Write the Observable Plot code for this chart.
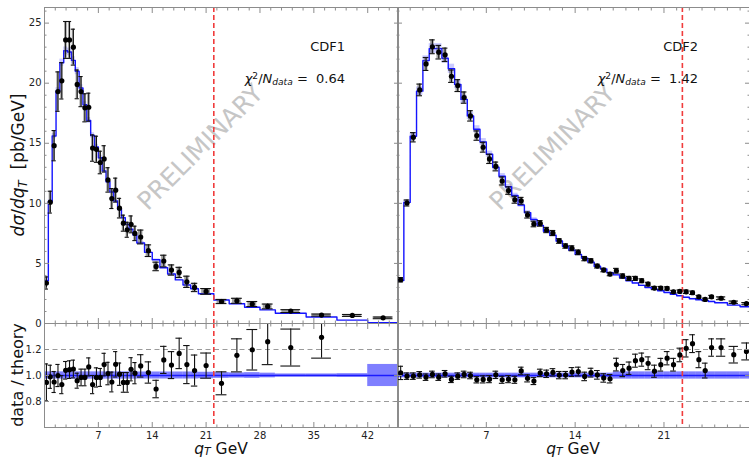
<!DOCTYPE html>
<html><head><meta charset="utf-8">
<script src="https://cdn.jsdelivr.net/npm/d3@7"></script>
<script src="https://cdn.jsdelivr.net/npm/@observablehq/plot@0.6"></script>
<style>
body{margin:0;background:#fff;}
#wrap{position:relative;width:749px;height:459px;background:#fff;font-family:"DejaVu Sans",sans-serif;color:#111;overflow:hidden}
#wrap svg{position:absolute;left:0;top:0}
.lab{position:absolute;white-space:nowrap;line-height:1}
.sb{font-size:0.7em;position:relative;top:0.25em}
.sbx{font-size:0.7em;position:relative;top:0.12em}
.sp{font-size:0.7em;position:relative;top:-0.45em}
</style></head><body><div id="wrap"></div>
<script>
// ---------------- data ----------------
const cdf1Edges = [0,0.5,1,1.5,2,2.5,3,3.5,4,4.5,5,5.5,6,6.5,7,7.5,8,8.5,9,9.5,10,10.5,11,11.5,12,13,14,15,16,17,18,19,20,22,24,26,28,30,34,38,42,46];
const cdf1Data = [3.37,10.1,14.8,19.3,20.2,23.6,23.6,23.0,19.9,19.3,17.95,18.0,14.6,14.5,13.4,13.7,11.95,10.4,11.1,9.6,8.35,7.8,8.25,7.5,7.2,6.06,4.75,5.2,4.45,4.25,3.47,3.0,2.67,1.83,1.89,1.62,1.42,1.03,0.70,0.67,0.47];
const cdf1Theory = [3.56,10.15,15.6,19.35,21.7,22.7,22.6,21.9,21.0,19.6,18.2,16.9,15.65,14.7,13.8,12.7,11.8,10.95,10.2,9.5,8.8,8.25,7.85,7.37,6.7,5.92,5.3,4.64,4.12,3.63,3.2,2.89,2.48,1.95,1.64,1.35,1.13,0.85,0.54,0.28,0.06];
const cdf1Ratio = [0.947,0.99,0.95,1.0,0.93,1.04,1.045,1.05,0.96,0.985,0.985,1.066,0.93,0.985,0.985,1.084,1.015,0.95,1.086,1.01,0.947,0.947,1.048,1.018,1.074,1.023,0.896,1.12,1.08,1.17,1.084,1.038,1.076,0.94,1.155,1.198,1.26,1.215,1.294,2.4,7.8];
const cdf1RelErr = [0.15,0.09,0.085,0.085,0.075,0.065,0.065,0.065,0.06,0.065,0.065,0.065,0.075,0.075,0.07,0.08,0.085,0.08,0.09,0.085,0.08,0.08,0.085,0.08,0.08,0.08,0.075,0.093,0.096,0.10,0.135,0.115,0.09,0.094,0.11,0.13,0.14,0.117,0.124,0.12,0.15];
const cdf1Band = [0.028,0.028,0.028,0.028,0.028,0.028,0.028,0.028,0.028,0.028,0.028,0.028,0.028,0.028,0.028,0.028,0.028,0.028,0.028,0.028,0.028,0.028,0.028,0.028,0.027,0.027,0.027,0.027,0.027,0.027,0.027,0.027,0.025,0.022,0.02,0.022,0.018,0.012,0.012,0.014,0.085];
const cdf1BandTop = 0.014;
const cdf1Cut = 22.0;
const cdf1Chi2 = "0.64";

const cdf2Edges = [0,0.5,1,1.5,2,2.5,3,3.5,4,4.5,5,5.5,6,6.5,7,7.5,8,8.5,9,9.5,10,10.5,11,11.5,12,12.5,13,13.5,14,14.5,15,15.5,16,16.5,17,17.5,18,18.5,19,19.5,20,20.5,21,21.5,22,22.5,23,23.5,24,24.5,25,26,27,28];
const cdf2Data = [3.64,10.03,15.5,19.44,21.6,23.03,22.58,22.36,20.58,19.8,18.8,17.28,15.64,14.67,13.7,13.07,11.86,11.06,10.3,10.21,9.03,8.28,8.33,7.78,7.53,6.87,6.45,6.26,5.92,5.4,5.22,4.78,4.45,4.11,4.39,3.95,3.75,3.75,3.56,3.28,2.95,2.95,2.92,2.64,2.67,2.64,2.56,2.22,2.0,2.22,2.1,1.77,1.65];
const cdf2Theory = [3.57,10.08,15.58,19.34,21.88,22.88,22.88,22.07,21.2,19.9,18.65,17.28,16.17,15.12,14.09,13.0,12.26,11.38,10.65,9.86,9.23,8.65,8.17,7.68,7.35,6.87,6.43,6.1,5.75,5.44,5.11,4.76,4.54,4.22,4.05,3.81,3.55,3.37,3.17,3.0,2.86,2.72,2.58,2.44,2.31,2.18,2.06,1.98,1.92,1.83,1.73,1.53,1.39];
const cdf2Ratio = [1.02,0.995,0.995,1.005,0.987,1.008,0.987,1.013,0.97,0.995,1.008,1.0,0.967,0.97,0.972,1.005,0.967,0.972,0.967,1.035,0.978,0.957,1.02,1.013,1.024,1.003,1.003,1.027,1.03,0.993,1.022,1.005,0.981,0.975,1.084,1.038,1.056,1.114,1.122,1.094,1.033,1.083,1.133,1.083,1.158,1.209,1.245,1.122,1.038,1.215,1.215,1.16,1.185];
const cdf2RelErr = [0.05,0.025,0.025,0.025,0.025,0.025,0.025,0.025,0.025,0.025,0.025,0.025,0.025,0.028,0.028,0.028,0.028,0.028,0.028,0.028,0.028,0.028,0.028,0.028,0.028,0.028,0.028,0.033,0.033,0.033,0.033,0.033,0.033,0.033,0.045,0.045,0.045,0.045,0.045,0.045,0.045,0.045,0.045,0.045,0.045,0.055,0.055,0.055,0.055,0.055,0.055,0.055,0.055];
const cdf2Band = [0.018,0.018,0.018,0.018,0.018,0.018,0.018,0.018,0.018,0.018,0.018,0.018,0.018,0.018,0.018,0.018,0.018,0.018,0.018,0.018,0.018,0.018,0.018,0.018,0.018,0.018,0.018,0.018,0.018,0.018,0.018,0.018,0.018,0.018,0.028,0.028,0.028,0.028,0.028,0.028,0.028,0.028,0.028,0.028,0.028,0.028,0.028,0.028,0.028,0.028,0.028,0.028,0.028];
const cdf2BandTop = 0.018;
const cdf2Cut = 22.45;
const cdf2Chi2 = "1.42";

const xTicks1 = [0,7,14,21,28,35,42];
const xLabels1 = [7,14,21,28,35,42];
const xTicks2 = [0,7,14,21];
const xLabels2 = [7,14,21];
const yTicksTop = [0,5,10,15,20,25];
const yTicksRatio = [0.8,1.0,1.2];

// ---------------- helpers ----------------
function rows(edges, data, theory, ratio, rel, band) {
  return data.map((v, i) => ({lo: edges[i], hi: edges[i + 1], c: (edges[i] + edges[i + 1]) / 2,
    w: edges[i + 1] - edges[i], v, th: theory[i], r: ratio[i], e: rel[i], b: band[i]}));
}
const R1 = rows(cdf1Edges, cdf1Data, cdf1Theory, cdf1Ratio, cdf1RelErr, cdf1Band);
const R2 = rows(cdf2Edges, cdf2Data, cdf2Theory, cdf2Ratio, cdf2RelErr, cdf2Band);

const W = 749, H = 459, FRAME = "#8c8c8c", XK = 0.2887;
const geoL = {marginLeft: 44, marginRight: 351, xDomain: [0, 46], minorX: 1.4, xMajor: xTicks1, xLabels: xLabels1};
const geoR = {marginLeft: 397, marginRight: 0, xDomain: [0, 27.74], minorX: 1, xMajor: xTicks2, xLabels: xLabels2};
const baseStyle = {background: "transparent", overflow: "visible", fontFamily: "DejaVu Sans", fontSize: "10px", color: "#222"};

function minorsOf(max, step, majors) {
  return d3.range(0, max + 1e-9, step).filter(v => !majors.some(m => Math.abs(m - v) < 1e-6));
}
function tickX(anchor, ticks, size) {
  return Plot.axisX({anchor, ticks, tickSize: -size, fill: "none", stroke: FRAME, label: null});
}
function tickY(anchor, ticks, size) {
  return Plot.axisY({anchor, ticks, tickSize: -size, fill: "none", stroke: FRAME, label: null});
}
function errorMarks(R, val, withBox) {
  const lo = d => val(d) * (1 - d.e), hi = d => val(d) * (1 + d.e);
  const x1 = d => d.c - d.w * XK, x2 = d => d.c + d.w * XK;
  const m = [];
  if (withBox) m.push(Plot.rect(R, {x1, x2, y1: lo, y2: hi, fill: "#555", fillOpacity: 0.55, clip: true}));
  m.push(Plot.ruleX(R, {x: "c", y1: lo, y2: hi, stroke: "#111", strokeWidth: 1.1, clip: true}));
  m.push(Plot.ruleY(R, {y: hi, x1, x2, insetLeft: -1, insetRight: -1, stroke: "#111", strokeWidth: 1.1, clip: true}));
  m.push(Plot.ruleY(R, {y: lo, x1, x2, insetLeft: -1, insetRight: -1, stroke: "#111", strokeWidth: 1.1, clip: true}));
  m.push(Plot.dot(R, {x: "c", y: val, r: 2.6, fill: "#000", stroke: "none", clip: true}));
  return m;
}
const red = {stroke: "#f03c3c", strokeWidth: 1.6, strokeDasharray: "5,3"};

function topPanel(g, R, bandTop, cut, yLabels) {
  const steps = R.flatMap(d => [{x: d.lo, y: d.th}, {x: d.hi, y: d.th}]);
  const xMin = minorsOf(g.xDomain[1], g.minorX, g.xMajor);
  const yMin = minorsOf(26.3, 1, yTicksTop);
  return Plot.plot({
    width: W, height: H, marginLeft: g.marginLeft, marginRight: g.marginRight, marginTop: 7, marginBottom: 136,
    x: {domain: g.xDomain}, y: {domain: [0, 26.3]}, style: baseStyle,
    marks: [
      Plot.text(["PRELIMINARY"], {text: d => d, frameAnchor: "middle", dx: -21, dy: -18, rotate: -45, fontSize: 25, fill: "#c6c6c6"}),
      Plot.rect(R, {x1: "lo", x2: "hi", y1: d => d.th * (1 - bandTop), y2: d => d.th * (1 + bandTop), fill: "#2a2aff", fillOpacity: 0.25, clip: true}),
      Plot.line(steps, {x: "x", y: "y", stroke: "#1414ff", strokeWidth: 1.4, clip: true}),
      Plot.ruleX([cut], red),
      ...errorMarks(R, d => d.v, true),
      Plot.frame({stroke: FRAME}),
      yLabels ? Plot.axisY({anchor: "left", ticks: yTicksTop, tickSize: 0, tickPadding: 3, fill: "#222", label: null, fontSize: 10}) : null,
      tickY("left", yTicksTop, 5), tickY("left", yMin, 2.5),
      tickY("right", yTicksTop, 5), tickY("right", yMin, 2.5),
      tickX("bottom", g.xMajor, 5), tickX("bottom", xMin, 2.5),
      tickX("top", g.xMajor, 5), tickX("top", xMin, 2.5)
    ]
  });
}

function ratioPanel(g, R, cut, yLabels) {
  const xMin = minorsOf(g.xDomain[1], g.minorX, g.xMajor);
  return Plot.plot({
    width: W, height: H, marginLeft: g.marginLeft, marginRight: g.marginRight, marginTop: 323, marginBottom: 32,
    x: {domain: g.xDomain}, y: {domain: [0.6, 1.4]}, style: baseStyle,
    marks: [
      Plot.rect(R, {x1: "lo", x2: "hi", y1: d => 1 - d.b, y2: d => 1 + d.b, fill: "#0000ff", fillOpacity: 0.5, clip: true}),
      Plot.ruleY([1], {stroke: "#1a1aff", strokeWidth: 1.3}),
      Plot.ruleY([0.8, 1.2], {stroke: "#9a9a9a", strokeWidth: 1, strokeDasharray: "5,3.5"}),
      Plot.ruleX([cut], red),
      ...errorMarks(R, d => d.r, false),
      Plot.frame({stroke: FRAME}),
      yLabels ? Plot.axisY({anchor: "left", ticks: yTicksRatio, tickSize: 0, tickPadding: 3, tickFormat: d3.format(".1f"), fill: "#222", label: null, fontSize: 10}) : null,
      tickY("left", yTicksRatio, 5), tickY("right", yTicksRatio, 5),
      Plot.axisX({anchor: "bottom", ticks: g.xLabels, tickSize: 0, tickPadding: 4, fill: "#222", label: null, fontSize: 10}),
      tickX("bottom", g.xMajor, 5), tickX("bottom", xMin, 2.5),
      tickX("top", g.xMajor, 5), tickX("top", xMin, 2.5)
    ]
  });
}

const wrap = document.getElementById("wrap");
[topPanel(geoL, R1, cdf1BandTop, cdf1Cut, true),
 topPanel(geoR, R2, cdf2BandTop, cdf2Cut, false),
 ratioPanel(geoL, R1, cdf1Cut, true),
 ratioPanel(geoR, R2, cdf2Cut, false)].forEach(p => wrap.appendChild(p));

// ---------------- text labels ----------------
function addLabel(html, css) {
  const d = document.createElement("div");
  d.className = "lab";
  d.innerHTML = html;
  Object.assign(d.style, css);
  wrap.appendChild(d);
}
addLabel('<i>dσ</i>/<i>dq<span class="sb">T</span></i>&nbsp;&nbsp;[pb/GeV]',
  {left: "18px", top: "165px", fontSize: "17px", transform: "translate(-50%,-50%) rotate(-90deg)"});
addLabel('data / theory',
  {left: "18px", top: "375px", fontSize: "16px", transform: "translate(-50%,-50%) rotate(-90deg)"});
addLabel('<i>q<span class="sbx">T</span></i> GeV', {left: "221px", top: "442px", fontSize: "15.5px", transform: "translateX(-50%)"});
addLabel('<i>q<span class="sbx">T</span></i> GeV', {left: "573px", top: "442px", fontSize: "15.5px", transform: "translateX(-50%)"});
const chi = v => '<i>χ</i><span class="sp">2</span>/<i>N<span class="sb">data</span></i> =&nbsp; ' + v;
addLabel('CDF1', {right: "404px", top: "40px", fontSize: "13px"});
addLabel(chi(cdf1Chi2), {right: "404px", top: "72px", fontSize: "13px"});
addLabel('CDF2', {right: "51px", top: "40px", fontSize: "13px"});
addLabel(chi(cdf2Chi2), {right: "51px", top: "72px", fontSize: "13px"});
</script></body></html>
